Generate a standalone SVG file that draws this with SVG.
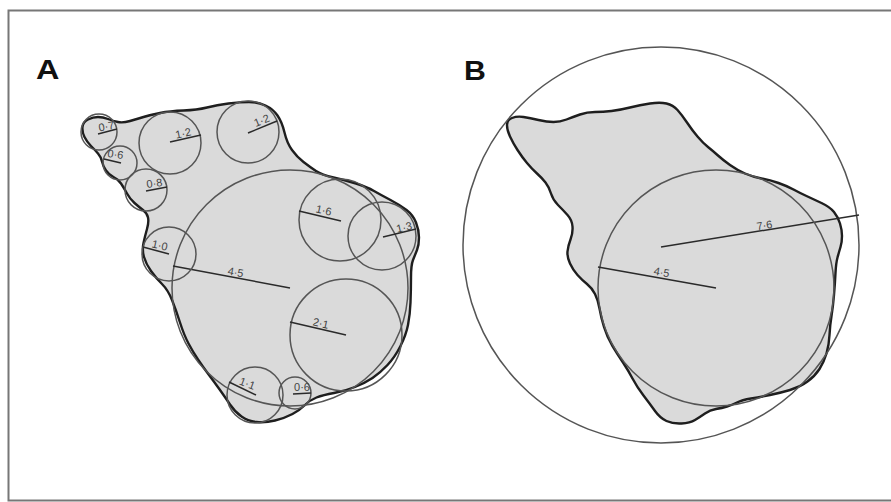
<svg xmlns="http://www.w3.org/2000/svg" width="891" height="502" viewBox="0 0 891 502">
<style>
.blob{fill:#dadada;stroke:#1e1e1e;stroke-width:2.4;stroke-linejoin:round}
.c{fill:none;stroke:#555;stroke-width:1.5}
.r{stroke:#2a2a2a;stroke-width:1.5;fill:none}
.lbl{font-family:"Liberation Sans",Arial,sans-serif;font-size:11px;fill:#444;text-anchor:middle}
.panel{font-family:"Liberation Sans",Arial,sans-serif;font-size:27px;font-weight:bold;fill:#111}
</style>
<rect x="0" y="0" width="891" height="502" fill="#fff"/>
<rect x="8.5" y="10.5" width="895" height="490" fill="none" stroke="#777" stroke-width="2"/>
<text class="panel" transform="translate(36,79) scale(1.2,1)">A</text>
<text class="panel" transform="translate(464,80) scale(1.12,1)">B</text>

<g id="panelA">
<path id="blobA" class="blob" d="M82.5,127 Q83,122 88,119.5 Q93,117 98,117 Q103,117 108,119 Q113,121 118,122 Q123,123 130,121 Q137,119 143.5,117 Q150,115 160,113 Q170,111 183.5,110.5 Q197,110 207,107.5 Q217,105 228.5,103.5 Q240,102 249,102 Q258,102 265.5,105.5 Q273,109 277.5,115.5 Q282,122 284.5,132.5 Q287,143 292,150 Q297,157 303.5,162 Q310,167 316,171 Q322,175 333.5,177.5 Q345,180 356,183.5 Q367,187 374,191 Q381,195 390.5,200 Q400,205 406.5,210 Q413,215 416,222.5 Q419,230 419,237.5 Q419,245 417,250 Q415,255 413,260 Q411,265 411,277.5 Q411,290 410.5,302.5 Q410,315 408,325 Q406,335 400.5,346 Q395,357 387.5,365 Q380,373 372.5,378 Q365,383 355,387 Q345,391 334,393 Q323,395 316.5,397.5 Q310,400 305,405 Q300,410 292.5,414 Q285,418 275,420.5 Q265,423 256.5,422 Q248,421 241.5,416.5 Q235,412 230,404.5 Q225,397 220,390 Q215,383 209,375 Q203,367 198,359.5 Q193,352 188.5,343.5 Q184,335 180,322.5 Q176,310 172,300 Q168,290 162,284 Q156,278 151,271 Q146,264 144,257 Q142,250 143.5,243 Q145,236 147,229 Q149,222 148,217.5 Q147,213 143,210 Q139,207 134.5,203 Q130,199 127,193.5 Q124,188 121,183.5 Q118,179 113.5,177 Q109,175 106,170.5 Q103,166 102,161.5 Q101,157 98,153.5 Q95,150 91,146 Q87,142 84.5,137 Q82,132 82.5,127 Z"/>
<g id="cA45"><circle class="c" cx="290" cy="288" r="118"/><line class="r" x1="173" y1="266" x2="290" y2="288"/><text class="lbl" transform="translate(235,276) rotate(10)">4·5</text></g>
<g id="cA07"><circle class="c" cx="99" cy="132" r="18"/><line class="r" x1="98" y1="134" x2="117" y2="129"/><text class="lbl" transform="translate(107,130) rotate(-10)">0·7</text></g>
<g id="cA06a"><circle class="c" cx="120" cy="163" r="17"/><line class="r" x1="104" y1="159" x2="121" y2="163"/><text class="lbl" transform="translate(115,158) rotate(8)">0·6</text></g>
<g id="cA08"><circle class="c" cx="146" cy="190" r="21"/><line class="r" x1="146" y1="191" x2="167" y2="187"/><text class="lbl" transform="translate(155,187) rotate(-8)">0·8</text></g>
<g id="cA12a"><circle class="c" cx="170" cy="143" r="31"/><line class="r" x1="170" y1="142" x2="201" y2="135"/><text class="lbl" transform="translate(184,137) rotate(-12)">1·2</text></g>
<g id="cA12b"><circle class="c" cx="248" cy="132" r="31"/><line class="r" x1="248" y1="133" x2="277" y2="121"/><text class="lbl" transform="translate(263,124) rotate(-22)">1·2</text></g>
<g id="cA10"><circle class="c" cx="169" cy="254" r="27"/><line class="r" x1="143" y1="247" x2="169" y2="254"/><text class="lbl" transform="translate(159,249) rotate(12)">1·0</text></g>
<g id="cA16"><circle class="c" cx="340" cy="220" r="41"/><line class="r" x1="299" y1="211" x2="341" y2="221"/><text class="lbl" transform="translate(323,214) rotate(12)">1·6</text></g>
<g id="cA13"><circle class="c" cx="382" cy="236" r="34"/><line class="r" x1="383" y1="237" x2="416" y2="229"/><text class="lbl" transform="translate(405,231) rotate(-13)">1·3</text></g>
<g id="cA21"><circle class="c" cx="346" cy="335" r="56"/><line class="r" x1="290" y1="322" x2="346" y2="335"/><text class="lbl" transform="translate(320,327) rotate(12)">2·1</text></g>
<g id="cA11"><circle class="c" cx="255" cy="395" r="28"/><line class="r" x1="229" y1="382" x2="256" y2="395"/><text class="lbl" transform="translate(246,387) rotate(20)">1·1</text></g>
<g id="cA06b"><circle class="c" cx="295" cy="393" r="16"/><line class="r" x1="293" y1="394" x2="311" y2="393"/><text class="lbl" transform="translate(302,391)">0·6</text></g>
</g>

<g id="panelB">
<path id="blobB" class="blob" d="M507,125 Q507,120 512,118 Q517,116 523.5,117 Q530,118 538.5,120 Q547,122 553.5,122 Q560,122 566.5,119.5 Q573,117 580,114.5 Q587,112 595,112 Q603,112 611.5,111 Q620,110 630,107.5 Q640,105 650,103.5 Q660,102 666.5,103.5 Q673,105 677.5,110 Q682,115 687,122.5 Q692,130 697.5,136.5 Q703,143 708,147 Q713,151 718,155.5 Q723,160 730,165 Q737,170 745,173.5 Q753,177 761.5,178.5 Q770,180 778.5,183 Q787,186 793.5,189.5 Q800,193 806.5,196 Q813,199 821.5,203 Q830,207 834,212 Q838,217 840,223.5 Q842,230 842,236 Q842,242 840.5,247 Q839,252 837.5,257.5 Q836,263 835.5,273 Q835,283 834,295 Q833,307 831.5,316 Q830,325 829.5,335 Q829,345 826.5,353.5 Q824,362 819.5,369 Q815,376 807.5,381.5 Q800,387 790,390 Q780,393 770,395 Q760,397 751,398.5 Q742,400 737,402.5 Q732,405 727,406.5 Q722,408 716,409 Q710,410 705,413.5 Q700,417 695,420 Q690,423 681.5,423.5 Q673,424 666.5,421 Q660,418 655,411 Q650,404 643.5,395.5 Q637,387 632.5,378.5 Q628,370 623,362.5 Q618,355 612.5,346 Q607,337 604,327 Q601,317 599.5,308.5 Q598,300 595,294 Q592,288 587,284 Q582,280 577.5,275 Q573,270 570,263.5 Q567,257 567.5,251.5 Q568,246 570.5,239.5 Q573,233 572.5,226.5 Q572,220 567.5,215 Q563,210 558,205 Q553,200 551,193.5 Q549,187 545.5,182.5 Q542,178 537,173.5 Q532,169 527,163 Q522,157 517.5,150 Q513,143 510,136.5 Q507,130 507,125 Z"/>
<g id="cB76"><circle class="c" cx="661" cy="245" r="198" stroke="#666"/><line class="r" x1="661" y1="247" x2="859" y2="215"/><text class="lbl" transform="translate(765,229) rotate(-9)">7·6</text></g>
<g id="cB45"><circle class="c" cx="716" cy="288" r="118"/><line class="r" x1="598" y1="267" x2="716" y2="288"/><text class="lbl" transform="translate(661,276) rotate(10)">4·5</text></g>
</g>
</svg>
